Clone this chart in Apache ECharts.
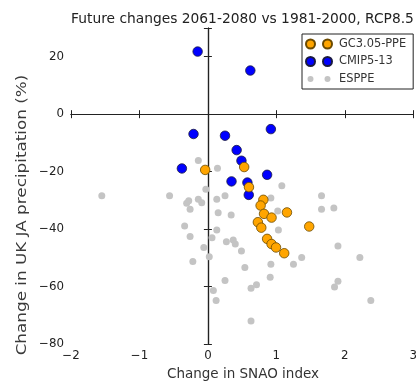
<!DOCTYPE html>
<html>
<head>
<meta charset="utf-8">
<script src="https://cdn.jsdelivr.net/npm/echarts@6/dist/echarts.min.js"></script>
<style>
html,body{margin:0;padding:0;background:#fff;}
#chart{width:420px;height:382px;}
</style>
</head>
<body>
<div id="chart"></div>
<script>
// ---- data ----
var gcX = [-0.04, 0.53, 0.60, 0.81, 0.77, 1.155, 0.82, 0.93, 0.73, 0.78, 1.48, 0.865, 0.93, 0.995, 1.115];
var gcY = [-19.4, -18.4, -25.4, -29.8, -31.8, -34.2, -34.7, -36.0, -37.6, -39.5, -39.1, -43.4, -45.2, -46.4, -48.4];

var cmipX = [-0.15, 0.62, -0.21, 0.25, 0.92, 0.42, 0.49, -0.38, 0.865, 0.345, 0.577, 0.597];
var cmipY = [21.8, 15.2, -6.9, -7.5, -5.2, -12.5, -16.2, -18.9, -21.1, -23.4, -23.8, -28.1];

var espX = [-1.55, -0.56, -0.03, -0.28, -0.31, -0.26, -0.14, -0.09, 0.13, 0.25, 0.15, 0.34, -0.34, -0.26, 0.13, 0.06,
            0.27, 0.37, 0.40, -0.06, 0.02, -0.22, 0.25, 0.08, 0.12, -0.14, 0.14, 1.08, 0.92, 1.02, 1.03, 1.66,
            1.66, 1.84, 1.90, 1.37, 2.22, 1.25, 0.92, 0.54, 0.49, 0.91, 0.71, 0.63, 1.90, 1.85, 2.38, 0.63];
var espY = [-28.4, -28.4, -26.1, -30.1, -31.0, -33.1, -29.6, -30.8, -29.6, -28.4, -34.3, -35.1, -38.9, -42.6, -40.3, -43.0,
            -44.4, -43.8, -45.2, -46.4, -49.6, -51.3, -57.9, -61.4, -64.9, -16.1, -18.8, -24.9, -29.2, -33.7, -40.3, -28.4,
            -33.1, -32.7, -45.9, -49.9, -49.9, -52.2, -52.2, -53.4, -47.6, -56.8, -59.4, -60.6, -58.2, -60.2, -64.9, -72.0];

var seriesNames = ['GC3.05-PPE', 'CMIP5-13', 'ESPPE'];
var xTicks = [-2, -1, 0, 1, 2, 3];
var yTicks = [-80, -60, -40, -20, 0, 20];
var titleText = 'Future changes 2061-2080 vs 1981-2000, RCP8.5';
var xLabel = 'Change in SNAO index';
var yLabel = 'Change in UK JA precipitation (%)';

function pairs(xs, ys) { return xs.map(function (x, i) { return [x, ys[i]]; }); }
function fmt(v) {
  if (yTicks.indexOf(v) < 0 && xTicks.indexOf(v) < 0) return '';
  return String(v).replace('-', '\u2212');
}

var FONT = 'DejaVu Sans';
var twoBig = 'path://M0,0 M28,9 M0,4.5A4.5,4.5 0 1,1 9,4.5A4.5,4.5 0 1,1 0,4.5Z M17,4.5A4.5,4.5 0 1,1 26,4.5A4.5,4.5 0 1,1 17,4.5Z';
var twoSmall = 'path://M0,0 M28,9 M1.5,4.5A3,3 0 1,1 7.5,4.5A3,3 0 1,1 1.5,4.5Z M18.5,4.5A3,3 0 1,1 24.5,4.5A3,3 0 1,1 18.5,4.5Z';

var axisLine = { show: true, lineStyle: { color: '#222', width: 1.2 } };
var tick = { show: true, inside: true, length: 4, lineStyle: { color: '#222', width: 1 } };

var chart = echarts.init(document.getElementById('chart'), null, { renderer: 'canvas' });
chart.setOption({
  animation: false,
  backgroundColor: '#fff',
  title: {
    text: titleText, left: 237.5, top: 7, textAlign: 'center',
    textStyle: { fontFamily: FONT, fontSize: 13.8, fontWeight: 'normal', color: '#222' }
  },
  grid: { left: 71, right: 5, top: 28, bottom: 38, containLabel: false },
  legend: {
    orient: 'vertical', left: 302, top: 34,
    padding: [4, 7, 4, 3],
    itemWidth: 28, itemHeight: 9, itemGap: 5.5,
    borderColor: '#222', borderWidth: 1, backgroundColor: '#fff',
    selectedMode: false,
    textStyle: { fontFamily: FONT, fontSize: 11.4, color: '#333', lineHeight: 12 },
    data: [
      { name: seriesNames[0], icon: twoBig },
      { name: seriesNames[1], icon: twoBig },
      { name: seriesNames[2], icon: twoSmall }
    ]
  },
  xAxis: [
    { type: 'value', position: 'bottom', min: -2, max: 3, interval: 1,
      axisLine: axisLine, axisTick: tick, splitLine: { show: false },
      axisLabel: { fontFamily: FONT, fontSize: 11.8, color: '#222', margin: 6, formatter: fmt } },
    { type: 'value', position: 'top', min: -2, max: 3, interval: 1,
      axisLine: axisLine, axisTick: tick, splitLine: { show: false }, axisLabel: { show: false } }
  ],
  yAxis: [
    { type: 'value', position: 'left', min: -80, max: 30, interval: 20,
      axisLine: axisLine, axisTick: tick, splitLine: { show: false },
      axisLabel: { fontFamily: FONT, fontSize: 11.8, color: '#222', margin: 7, formatter: fmt } },
    { type: 'value', position: 'right', min: -80, max: 30, interval: 20,
      axisLine: axisLine, axisTick: tick, splitLine: { show: false }, axisLabel: { show: false } }
  ],
  graphic: [
    { type: 'text', x: 243, y: 374, style: { text: xLabel, fontFamily: FONT, fontSize: 13.5, fill: '#333', textAlign: 'center', textVerticalAlign: 'middle' } },
    { type: 'text', x: 22, y: 215, rotation: Math.PI / 2, scaleX: 1.2, style: { text: yLabel, fontFamily: FONT, fontSize: 14, fill: '#3a3a3a', textAlign: 'center', textVerticalAlign: 'middle' } }
  ],
  series: [
    { name: seriesNames[2], type: 'scatter', z: 2, symbolSize: 7, data: pairs(espX, espY),
      itemStyle: { color: '#c4c4c4', opacity: 1 }, emphasis: { disabled: true } },
    { name: seriesNames[1], type: 'scatter', z: 3, symbolSize: 9.5, data: pairs(cmipX, cmipY),
      itemStyle: { color: '#0000ff', borderColor: '#1a1a40', borderWidth: 0.8, opacity: 1 }, emphasis: { disabled: true } },
    { name: seriesNames[0], type: 'scatter', z: 4, symbolSize: 9.5, data: pairs(gcX, gcY),
      itemStyle: { color: '#ffa500', borderColor: '#6b4a00', borderWidth: 0.8, opacity: 1 }, emphasis: { disabled: true } }
  ]
});
</script>
</body>
</html>
